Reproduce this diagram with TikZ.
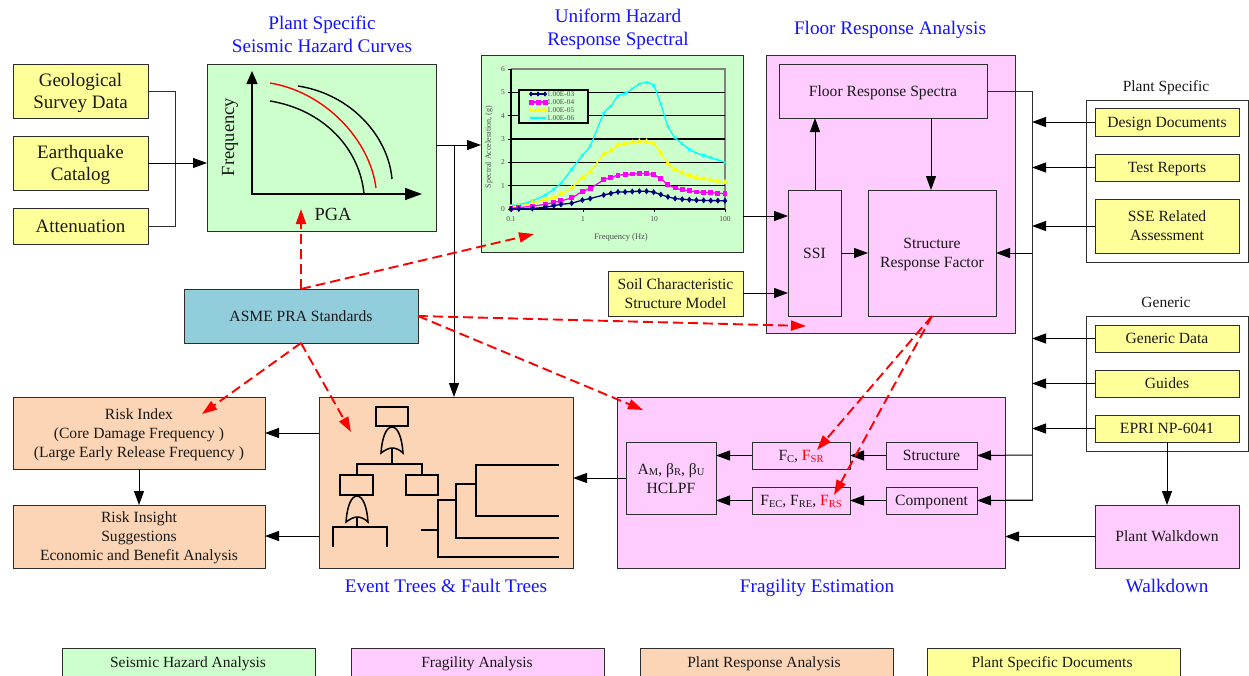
\documentclass[tikz,border=0pt]{standalone}
\usepackage{fontspec}
\setmainfont{Liberation Serif}
\usetikzlibrary{arrows.meta,plotmarks}
\definecolor{cgreen}{RGB}{204,255,204}
\definecolor{cpink}{RGB}{255,204,255}
\definecolor{corange}{RGB}{251,213,181}
\definecolor{cyell}{RGB}{255,255,153}
\definecolor{cblue}{RGB}{146,205,220}
\definecolor{edge}{RGB}{45,45,45}
\definecolor{ttl}{RGB}{20,20,255}
\definecolor{cnavy}{RGB}{0,0,128}
\definecolor{ccyan}{RGB}{0,255,255}
\definecolor{cmag}{RGB}{255,0,255}
\definecolor{cyel}{RGB}{255,255,0}
\tikzset{
  box/.style={draw=edge,line width=1pt,inner sep=0pt,outer sep=0pt,align=center,text=black!90,text depth=0pt,font=\fontsize{15.6}{19}\selectfont},
  bigbox/.style={box,font=\fontsize{19}{22.5}\selectfont},
  arr/.style={draw=black,line width=1pt,-{Triangle[length=14pt,width=10pt]}},
  wire/.style={draw=edge,line width=1pt},
  redarr/.style={draw=red,line width=1.9pt,dash pattern=on 10pt off 5pt,-{Triangle[length=15pt,width=10pt]}},
  title/.style={text=ttl,inner sep=0pt,text depth=0pt,font=\fontsize{19.2}{22}\selectfont},
  caption/.style={text=black!90,inner sep=0pt,text depth=0pt,font=\fontsize{15.5}{19}\selectfont},
  tick/.style={text=black!70,inner sep=0pt,font=\fontsize{7.5}{9}\selectfont},
  ink/.style={draw=black,line width=1.5pt},
  orgate/.pic={\draw[ink] (-11,26) .. controls (-10,11) and (-6,0) .. (0,0) .. controls (6,0) and (10,11) .. (11,26) .. controls (7,22) and (3,21) .. (0,21) .. controls (-3,21) and (-7,23) .. (-11,26) -- cycle;},
}
\newcommand{\Bx}[7]{%
  \pgfmathsetmacro\bcx{(#2+#4)/2}%
  \pgfmathsetmacro\bcy{(#3+#5)/2}%
  \pgfmathsetmacro\bw{#4-#2}%
  \pgfmathsetmacro\bh{#5-#3}%
  \node[#6,minimum width=\bw pt,minimum height=\bh pt] (#1) at (\bcx,\bcy) {#7};}
\newcommand{\sbs}[1]{\raisebox{-0.25ex}{\fontsize{10.5}{10.5}\selectfont #1}}
\begin{document}
\begin{tikzpicture}[x=1pt,y=-1pt]
\clip (0,0) rectangle (1249,675);
\fill[white] (0,0) rectangle (1249,675);
% panels
\Bx{hazard}{207}{64}{436}{231}{box,fill=cgreen}{}
\Bx{uniform}{481}{55}{743}{252}{box,fill=cgreen}{}
\Bx{floor}{766}{55}{1015}{333}{box,fill=cpink}{}
\Bx{event}{319}{397}{573}{568}{box,fill=corange}{}
\Bx{frag}{617}{397}{1005}{568}{box,fill=cpink}{}
\Bx{pgroup}{1086}{100}{1248}{262}{box}{}
\Bx{ggroup}{1086}{316}{1248}{451}{box}{}
% left inputs
\Bx{geo}{13}{64}{148}{118}{bigbox,fill=cyell}{Geological\\Survey Data}
\Bx{quake}{13}{136}{148}{190}{bigbox,fill=cyell}{Earthquake\\Catalog}
\Bx{atten}{13}{208}{148}{244}{bigbox,fill=cyell}{Attenuation}
\Bx{asme}{184}{289}{418}{343}{box,fill=cblue}{ASME PRA Standards}
\Bx{soil}{608}{271}{743}{316}{box,fill=cyell}{Soil Characteristic\\Structure Model}
% floor
\Bx{frs}{779}{64}{987}{118}{box,fill=cpink}{Floor Response Spectra}
\Bx{ssi}{788}{190}{841}{316}{box,fill=cpink}{SSI}
\Bx{srf}{868}{190}{996}{316}{box,fill=cpink}{Structure\\Response Factor}
% risk
\Bx{risk}{13}{397}{265}{469}{box,fill=corange}{Risk Index\\(Core Damage Frequency )\\(Large Early Release Frequency )}
\Bx{insight}{13}{505}{265}{568}{box,fill=corange}{Risk Insight\\Suggestions\\Economic and Benefit Analysis}
% fragility
\Bx{hclpf}{626}{442}{716}{514}{box,fill=cpink}{A\sbs{M}, β\sbs{R}, β\sbs{U}\\HCLPF}
\Bx{fc}{752}{442}{850}{469}{box,fill=cpink}{F\sbs{C}, \textcolor{red}{F\sbs{SR}}}
\Bx{fec}{752}{487}{850}{514}{box,fill=cpink}{F\sbs{EC}, F\sbs{RE}, \textcolor{red}{F\sbs{RS}}}
\Bx{struct}{886}{442}{977}{469}{box,fill=cpink}{Structure}
\Bx{comp}{886}{487}{977}{514}{box,fill=cpink}{Component}
% documents
\Bx{design}{1095}{108}{1239}{136}{box,fill=cyell}{Design Documents}
\Bx{test}{1095}{154}{1239}{181}{box,fill=cyell}{Test Reports}
\Bx{sse}{1095}{199}{1239}{253}{box,fill=cyell}{SSE Related\\Assessment}
\Bx{gdata}{1095}{325}{1239}{352}{box,fill=cyell}{Generic Data}
\Bx{guides}{1095}{370}{1239}{397}{box,fill=cyell}{Guides}
\Bx{epri}{1095}{415}{1239}{442}{box,fill=cyell}{EPRI NP-6041}
\Bx{walk}{1095}{505}{1239}{568}{box,fill=cpink}{Plant Walkdown}
% legend
\Bx{l1}{62}{648}{315}{690}{box,fill=cgreen}{}
\Bx{l2}{351}{648}{604}{690}{box,fill=cpink}{}
\Bx{l3}{640}{648}{893}{690}{box,fill=corange}{}
\Bx{l4}{927}{648}{1180}{690}{box,fill=cyell}{}
\node[caption] (lt1) at (188,662) {Seismic Hazard Analysis};
\node[caption] (lt2) at (477,662) {Fragility Analysis};
\node[caption] (lt3) at (764,662) {Plant Response Analysis};
\node[caption] (lt4) at (1052,662) {Plant Specific Documents};
% titles
\node[title] (t1) at (322,23) {Plant Specific};
\node[title] (t2) at (322,46) {Seismic Hazard Curves};
\node[title] (t3) at (618,16) {Uniform Hazard};
\node[title] (t4) at (618,39) {Response Spectral};
\node[title] (t5) at (890,28) {Floor Response Analysis};
\node[title] (t6) at (446,586) {Event Trees \& Fault Trees};
\node[title] (t7) at (817,586) {Fragility Estimation};
\node[title] (t8) at (1167,586) {Walkdown};
\node[caption] (c1) at (1166,86) {Plant Specific};
\node[caption] (c2) at (1166,302) {Generic};
% hazard sketch
\draw[black,line width=1.5pt,{Triangle[length=13pt,width=11pt]}-{Triangle[length=17pt,width=12pt]}] (252,71) -- (252,194) -- (422,194);
\draw[black,line width=1.4pt] (270,101) .. controls (325,110) and (360,150) .. (364,194);
\draw[red,line width=1.4pt] (270,83) .. controls (325,92) and (370,140) .. (376,188);
\draw[black,line width=1.4pt] (298,86) .. controls (350,94) and (388,135) .. (392,179);
\node[inner sep=0pt,text=black!90,font=\fontsize{18.5}{22}\selectfont] (pga) at (333,214) {PGA};
\node[inner sep=0pt,text=black!90,rotate=90,font=\fontsize{18.5}{22}\selectfont] (freq) at (230,137) {Frequency};
% chart frame and grid
\draw[gray,line width=1.2pt] (511,69) -- (725,69) -- (725,209);
\foreach \v in {1,...,5} {\pgfmathsetmacro\gy{209-23.33*\v}\draw[black,line width=1.2pt] (511,\gy) -- (725,\gy);}
\draw[black,line width=1.5pt] (511,69) -- (511,209) -- (725,209);
\foreach \v in {0,...,6} {\pgfmathsetmacro\gy{209-23.33*\v}\node[tick] (yt\v) at (503,\gy) {\v};\draw[black,line width=.7pt] (508,\gy) -- (511,\gy);}
\foreach \n/\px/\lab in {a/511/0.1,b/583/1,c/654/10,d/725/100} {\node[tick] (xt\n) at (\px,219) {\lab};\draw[black,line width=.7pt] (\px,209) -- (\px,212);}
\node[tick,font=\fontsize{8.5}{10}\selectfont] (xl) at (621,237) {Frequency (Hz)};
\node[tick,rotate=90,font=\fontsize{8}{10}\selectfont] (yl) at (489,147) {Spectral Acceleration, (g)};
\begin{scope}[shift={(511,209)},x=71.33pt,y=23.33pt]
\draw[ccyan,line width=1.3pt] plot[smooth,tension=.4,mark=x,mark size=2pt,mark options={line width=.7pt}] coordinates {(0,.15)(.11,.18)(.3,.35)(.48,.6)(.6,.85)(.7,1.1)(.85,1.7)(1,2.3)(1.11,2.7)(1.3,4.1)(1.4,4.4)(1.5,4.85)(1.6,4.95)(1.7,5.15)(1.8,5.35)(1.9,5.42)(2,5.3)(2.1,4.5)(2.2,3.55)(2.3,3.05)(2.4,2.8)(2.5,2.55)(2.6,2.4)(2.7,2.3)(2.8,2.2)(2.9,2.1)(3,2)};
\draw[cyel,line width=1.3pt] plot[smooth,tension=.4,mark=triangle*,mark size=2pt,mark options={fill=cyel}] coordinates {(0,.08)(.11,.12)(.3,.25)(.48,.4)(.6,.5)(.7,.65)(.85,.9)(1,1.35)(1.11,1.6)(1.3,2.35)(1.4,2.5)(1.5,2.75)(1.6,2.8)(1.7,2.85)(1.8,2.9)(1.9,2.9)(2,2.8)(2.1,2.4)(2.2,1.95)(2.3,1.7)(2.4,1.55)(2.5,1.45)(2.6,1.35)(2.7,1.3)(2.8,1.25)(2.9,1.2)(3,1.15)};
\draw[cmag,line width=1.3pt] plot[smooth,tension=.4,mark=square*,mark size=1.8pt,mark options={fill=cmag}] coordinates {(0,.03)(.11,.06)(.3,.12)(.48,.2)(.6,.28)(.7,.35)(.85,.48)(1,.75)(1.11,.88)(1.3,1.25)(1.4,1.35)(1.5,1.45)(1.6,1.47)(1.7,1.5)(1.8,1.52)(1.9,1.52)(2,1.47)(2.1,1.3)(2.2,1.05)(2.3,.9)(2.4,.82)(2.5,.78)(2.6,.73)(2.7,.72)(2.8,.7)(2.9,.68)(3,.66)};
\draw[cnavy,line width=1.3pt] plot[smooth,tension=.4,mark=diamond*,mark size=2pt,mark options={fill=cnavy}] coordinates {(0,0)(.11,0)(.3,.02)(.48,.08)(.6,.14)(.7,.2)(.85,.25)(1,.38)(1.11,.45)(1.3,.6)(1.4,.67)(1.5,.73)(1.6,.73)(1.7,.75)(1.8,.76)(1.9,.76)(2,.72)(2.1,.62)(2.2,.52)(2.3,.45)(2.4,.42)(2.5,.4)(2.6,.38)(2.7,.37)(2.8,.36)(2.9,.36)(3,.35)};
\end{scope}
% chart legend
\draw[black,line width=1.2pt,fill=cgreen] (519,90) rectangle (588,123);
\foreach \yy/\cc/\mm/\lab in {94/cnavy/diamond*/1.00E-03,102/cmag/square*/1.00E-04,110/cyel/triangle*/1.00E-05,118/ccyan/x/1.00E-06} {
  \draw[\cc,line width=1.2pt] plot[mark=\mm,mark size=2pt,mark options={fill=\cc,line width=.7pt}] coordinates {(531,\yy)(538,\yy)(545,\yy)};
  \node[tick,anchor=west,font=\fontsize{7.3}{8}\selectfont] (lg\yy) at (547,\yy) {\lab};
}
% fault tree
\Bx{ft1}{376}{407}{408}{426}{ink,inner sep=0pt}{}
\Bx{ft2}{340}{475}{373}{495}{ink,inner sep=0pt}{}
\Bx{ft3}{406}{475}{438}{495}{ink,inner sep=0pt}{}
\pic at (392,427) {orgate};
\pic at (357,496) {orgate};
\draw[ink] (392,448) -- (392,464);
\draw[ink] (357,475) -- (357,464) -- (422,464) -- (422,475);
\draw[ink] (357,517) -- (357,527);
\draw[ink] (333,547) -- (333,527) -- (387,527) -- (387,547);
% event tree
\draw[ink] (421,530) -- (438,530);
\draw[ink] (559,557) -- (438,557) -- (438,500) -- (456,500);
\draw[ink] (559,538) -- (456,538) -- (456,484) -- (476,484);
\draw[ink] (559,465) -- (476,465) -- (476,516) -- (559,516);
% connectors, left
\coordinate (lbus) at (175,163);
\draw[wire] (geo.east) -- (geo.east -| lbus) -- (atten.east -| lbus) -- (atten.east);
\coordinate (qend) at (quake.east -| hazard.west);
\draw[arr] (quake.east) -- (qend);
\coordinate (hz) at (436,145);
\coordinate (hzj) at (454,145);
\draw[arr] (hz) -- (hz -| uniform.west);
\draw[arr] (hzj) -- (hzj |- event.north);
\coordinate (u1) at (743,216);
\draw[arr] (u1) -- (u1 -| ssi.west);
\draw[arr] (soil.east |- 0,293) -- (ssi.west |- 0,293);
\draw[arr] (ssi.east) -- (srf.west);
\coordinate (s1) at (815,190);
\draw[arr] (s1) -- (s1 |- frs.south);
\coordinate (f1) at (931,118);
\draw[arr] (f1) -- (f1 |- srf.north);
% right bus
\coordinate (bus) at (1032,91);
\coordinate (busend) at (1032,500);
\draw[wire] (frs.east) -- (bus) -- (busend) -- (comp.east |- busend);
\draw[arr] (1032,253) -- (srf.east);
\draw[arr] (1032,455) -- (struct.east);
\draw[arr] (1032,500) -- (comp.east);
\draw[arr] (design.west) -- (design.west -| bus);
\draw[arr] (test.west) -- (test.west -| bus);
\draw[arr] (sse.west) -- (sse.west -| bus);
\draw[arr] (gdata.west) -- (gdata.west -| bus);
\draw[arr] (guides.west) -- (guides.west -| bus);
\draw[arr] (epri.west) -- (epri.west -| bus);
\draw[arr] (epri.south) -- (walk.north);
\draw[arr] (walk.west) -- (walk.west -| frag.east);
\draw[arr] (struct.west) -- (fc.east);
\draw[arr] (comp.west) -- (fec.east);
\draw[arr] (fc.west) -- (fc.west -| hclpf.east);
\draw[arr] (fec.west) -- (fec.west -| hclpf.east);
\draw[arr] (hclpf.west) -- (hclpf.west -| event.east);
\coordinate (e1) at (319,433);
\coordinate (e2) at (319,536);
\draw[arr] (e1) -- (e1 -| risk.east);
\draw[arr] (e2) -- (e2 -| insight.east);
\draw[arr] (risk.south -| 139,0) -- (insight.north -| 139,0);
% red dashed
\coordinate (ra) at (301,209);
\coordinate (rb) at (534,234);
\coordinate (rc) at (806,326);
\coordinate (rd) at (643,410);
\coordinate (re) at (202,414);
\coordinate (rf) at (351,432);
\coordinate (rg) at (817,450);
\coordinate (rh) at (834,495);
\draw[redarr] (asme.north) -- (ra);
\draw[redarr] (asme.north) -- (rb);
\draw[redarr] (asme.east) -- (rc);
\draw[redarr] (asme.east) -- (rd);
\draw[redarr] (asme.south) -- (re);
\draw[redarr] (asme.south) -- (rf);
\draw[redarr] (srf.south) -- (rg);
\draw[redarr] (srf.south) -- (rh);
\end{tikzpicture}
\end{document}
